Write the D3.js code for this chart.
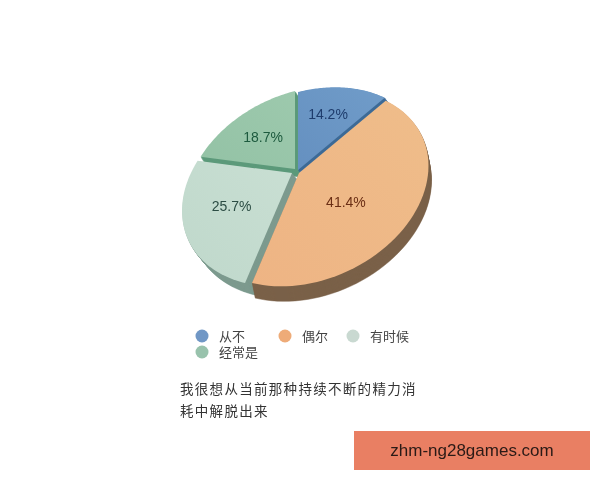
<!DOCTYPE html>
<html><head><meta charset="utf-8">
<script src="https://cdn.jsdelivr.net/npm/d3@7/dist/d3.min.js"></script>
<style>html,body{margin:0;padding:0;background:#fff}svg{display:block;filter:blur(0.4px)}</style>
</head><body><svg id="c" width="600" height="480"></svg>
<script>
const categories = ["从不","偶尔","有时候","经常是"];
const values = [14.2,41.4,25.7,18.7];
const valueLabels = ["14.2%","41.4%","25.7%","18.7%"];
const topColors = ["#709cc9","#eeb484","#c9dfd3","#9dc9ad"];
const topColorsEdge = ["#6590c0","#efbd8a","#bfd8cb","#93c2a5"];
const sideColors = ["#3d6a96","#7a6148","#7d9a8e","#5d9a7b"];
const textColors = ["#1e3c6c","#6a2e14","#2c4d44","#1d5a3e"];
const captionLines = ["我很想从当前那种持续不断的精力消","耗中解脱出来"];
const watermark = "zhm-ng28games.com";

const svg = d3.select("#c");
const defs = svg.append("defs");
const apex = {x:296,y:171}, A=117, B=92, P=0.18, Q=0.08, S=-0.2;
const depths = [{x:6,y:8},{x:3,y:15},{x:10,y:12},{x:5,y:8}];
const offsets = [{x:2,y:-1},{x:3,y:2},{x:-4,y:2},{x:-1,y:-2}];
const labelR = [0.62,0.5,0.62,0.6];
const labelNudge = [[1,-1],[-5,11],[6,-2],[3,3]];
function project(theta,r){
  const u=Math.sin(theta)*r, v=-Math.cos(theta)*r, d=1-P*v-Q*u;
  const x=A*u/d, y=B*v/d+S*x;
  return [apex.x+x,apex.y+y];
}
const arcs = d3.pie().sort(null)(values);
const line = d3.line();
function slicePts(a){
  const pts=[project(a.startAngle,0)];
  d3.range(0,61).forEach(i=>pts.push(project(a.startAngle+(a.endAngle-a.startAngle)*i/60,1)));
  return pts;
}
arcs.forEach((a,i)=>{
  const g=defs.append("linearGradient").attr("id","g"+i).attr("x1","0").attr("y1","1").attr("x2","1").attr("y2","0");
  g.append("stop").attr("offset","0").attr("stop-color",i==1?topColors[i]:topColorsEdge[i]);
  g.append("stop").attr("offset","1").attr("stop-color",i==1?topColorsEdge[i]:topColors[i]);
});
const order=[3,0,2,1];
order.forEach(i=>{
  const a=arcs[i], o=offsets[i], dp=depths[i], d=line(slicePts(a))+"Z";
  const g=svg.append("g").attr("transform",`translate(${o.x},${o.y})`);
  d3.range(dp.y,0,-1).forEach(s=>{
    g.append("path").attr("d",d).attr("fill",sideColors[i]).attr("stroke",sideColors[i]).attr("stroke-width",0.5)
     .attr("transform",`translate(${dp.x*s/dp.y},${s})`);
  });
  g.append("path").attr("d",d).attr("fill",`url(#g${i})`);
});
arcs.forEach((a,i)=>{
  const o=offsets[i], p=project((a.startAngle+a.endAngle)/2,labelR[i]);
  svg.append("text").attr("x",p[0]+o.x+labelNudge[i][0]).attr("y",p[1]+o.y+labelNudge[i][1]).attr("text-anchor","middle").attr("dominant-baseline","middle")
    .attr("font-family","Liberation Sans").attr("font-size",14).attr("fill",textColors[i]).text(valueLabels[i]);
});
const legendPos=[[202,336],[285,336],[353,336],[202,352]];
const legendFill=["#7097c5","#eeab78","#c9d9d1","#98c2ac"];
categories.forEach((c,i)=>{
  const [x,y]=legendPos[i];
  svg.append("circle").attr("cx",x).attr("cy",y).attr("r",6.5).attr("fill",legendFill[i]);
  svg.append("text").attr("x",x+17).attr("y",y+5).attr("font-family","Noto Sans CJK SC").attr("font-size",13).attr("fill","#444").text(c);
});
captionLines.forEach((t,i)=>{
  svg.append("text").attr("x",180).attr("y",[394,416][i]).attr("font-family","Noto Sans CJK SC").attr("font-size",13.5)
    .attr("letter-spacing",1.3).attr("fill","#333").text(t);
});
svg.append("rect").attr("x",354).attr("y",431).attr("width",236).attr("height",39).attr("fill","#e97f63");
svg.append("text").attr("x",472).attr("y",456).attr("text-anchor","middle").attr("font-family","Liberation Sans").attr("font-size",17)
  .attr("fill","#2a1a16").text(watermark);
</script></body></html>
